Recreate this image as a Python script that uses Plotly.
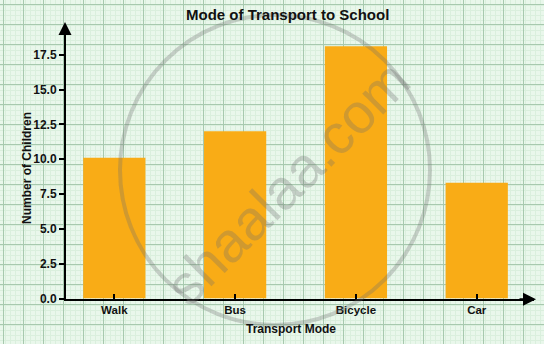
import plotly.graph_objects as go

# ---- data ----
categories = ["Walk", "Bus", "Bicycle", "Car"]
children = [10.1, 12.0, 18.1, 8.3]
y_ticks = [0, 2.5, 5, 7.5, 10, 12.5, 15, 17.5]
title_text = "Mode of Transport to School"
x_title = "Transport Mode"
y_title = "Number of Children"

W, H = 544, 344
BAR = "#F9AC16"

fig = go.Figure()

fig.add_trace(go.Bar(
    x=categories, y=children, xaxis="x2", yaxis="y2",
    marker=dict(color=BAR, line=dict(width=0)), width=0.515,
    hoverinfo="x+y",
))
fig.add_trace(go.Scatter(x=[0], y=[0], xaxis="x", yaxis="y",
                         mode="markers", marker=dict(opacity=0), hoverinfo="skip",
                         showlegend=False))

fig.update_layout(
    width=W, height=H,
    margin=dict(l=0, r=0, t=0, b=0, pad=0, autoexpand=False),
    paper_bgcolor="#E9F7EB",
    plot_bgcolor="rgba(0,0,0,0)",
    showlegend=False,
    font=dict(family="Liberation Sans, Arial", color="#111111"),
    xaxis=dict(domain=[0, 1], range=[0, W], showticklabels=False, ticks="",
               showgrid=True, gridcolor="#A7C9AE", gridwidth=1, zeroline=False,
               tick0=3.5, dtick=20, fixedrange=True, automargin=False,
               minor=dict(dtick=5, showgrid=True, gridcolor="#DAEFDD", gridwidth=1)),
    yaxis=dict(domain=[0, 1], range=[H, 0], showticklabels=False, ticks="",
               showgrid=True, gridcolor="#A7C9AE", gridwidth=1, zeroline=False,
               tick0=4, dtick=20, fixedrange=True, automargin=False,
               minor=dict(dtick=5, showgrid=True, gridcolor="#DAEFDD", gridwidth=1)),
    xaxis2=dict(domain=[66 / W, 534 / W], anchor="y2", type="category",
                range=[-0.4, 3.474], showgrid=False, zeroline=False,
                showline=True, linecolor="black", linewidth=2,
                ticks="inside", ticklen=5, tickwidth=1.5, tickcolor="black",
                tickvals=categories, ticktext=["<b>" + c + "</b>" for c in categories],
                tickfont=dict(size=11.5, family="Liberation Sans, Arial", color="#111"),
                fixedrange=True, automargin=False),
    yaxis2=dict(domain=[1 - 298.5 / H, 1 - 25 / H], anchor="x2",
                range=[0, 19.63], showgrid=False, zeroline=False,
                showline=True, linecolor="black", linewidth=2,
                tickvals=y_ticks, ticktext=["<b>%.1f</b>" % v for v in y_ticks],
                ticks="outside", ticklen=5, tickwidth=1.5, tickcolor="black",
                tickfont=dict(size=12, family="Liberation Sans, Arial", color="#111"),
                fixedrange=True, automargin=False),
)

annos = [
    dict(text="<b>" + title_text + "</b>", x=287 / W, y=1 - 15 / H, xref="paper", yref="paper",
         showarrow=False, font=dict(size=15, color="#111"), xanchor="center", yanchor="middle"),
    dict(text="<b>" + x_title + "</b>", x=291 / W, y=1 - 329 / H, xref="paper", yref="paper",
         showarrow=False, font=dict(size=12, color="#111"), xanchor="center", yanchor="middle"),
    dict(text="<b>" + y_title + "</b>", x=27 / W, y=1 - 168 / H, xref="paper", yref="paper",
         showarrow=False, textangle=-90, font=dict(size=12, color="#111"),
         xanchor="center", yanchor="middle"),
    dict(text="", x=65 / W, y=1 - 22 / H, xref="paper", yref="paper",
         showarrow=True, ax=0, ay=18, arrowhead=2, arrowsize=1.3, arrowwidth=2,
         arrowcolor="black"),
    dict(text="", x=536 / W, y=1 - 299.3 / H, xref="paper", yref="paper",
         showarrow=True, ax=-18, ay=0, arrowhead=2, arrowsize=1.3, arrowwidth=2,
         arrowcolor="black"),
    dict(text="shaalaa.com", x=288 / W, y=1 - 183 / H, xref="paper", yref="paper",
         showarrow=False, textangle=-45,
         font=dict(size=56, family="Liberation Sans, Arial", color="rgba(110,110,110,0.30)"),
         xanchor="center", yanchor="middle"),
]
fig.update_layout(annotations=annos)

fig.add_shape(type="circle", xref="paper", yref="paper",
              x0=(275 - 155) / W, x1=(275 + 155) / W,
              y0=1 - (170 + 155) / H, y1=1 - (170 - 155) / H,
              line=dict(color="rgba(110,110,110,0.30)", width=4), layer="above")

fig.write_html("out.html")
